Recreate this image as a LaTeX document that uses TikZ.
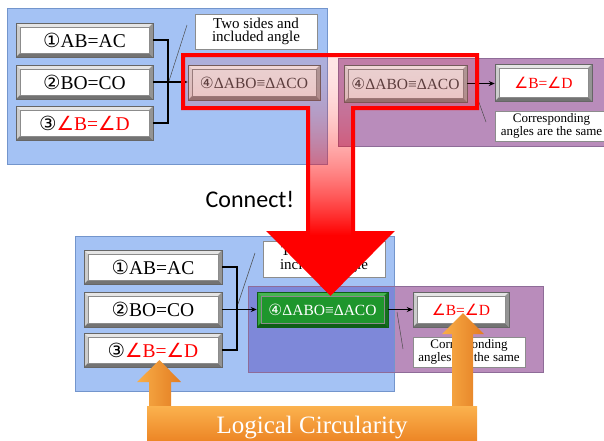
\documentclass[tikz,border=0pt]{standalone}
\usepackage{fontspec}
\setmainfont{Liberation Serif}
\newfontfamily\dv{DejaVu Sans}
\newfontfamily\carl{Carlito}
\usetikzlibrary{arrows.meta,calc}
\definecolor{pblue}{HTML}{A4C2F4}
\definecolor{pblueD}{HTML}{7395CC}
\definecolor{ppurp}{HTML}{B98CBB}
\definecolor{ppurpD}{HTML}{8E6C98}
\definecolor{povl}{HTML}{7E88D9}
\definecolor{gin}{HTML}{1E962C}
\definecolor{gtop}{HTML}{46B552}
\definecolor{gleft}{HTML}{34A640}
\definecolor{gright}{HTML}{14701E}
\definecolor{gbot}{HTML}{0E5E16}
\definecolor{orA}{HTML}{FBB24E}
\definecolor{orB}{HTML}{EC8424}
\definecolor{orL}{HTML}{F9AE48}
\definecolor{orR}{HTML}{E37C21}
\newcommand\fA{\fontsize{19.5}{21}\selectfont}
\newcommand\fB{\fontsize{15.5}{17}\selectfont}
\newcommand\fC{\fontsize{15}{13.5}\selectfont}
\newcommand\fD{\fontsize{13}{10.5}\selectfont}
\newcommand\ang{{\dv ∠}}
\tikzset{
  bevelbase/.style n args={5}{fill=#1, draw=black!60, line width=0.5pt, inner sep=0pt,
    path picture={
      \fill[#2] (path picture bounding box.north west) -- (path picture bounding box.north east)
        -- ([shift={(-4pt,-4pt)}]path picture bounding box.north east) -- ([shift={(4pt,-4pt)}]path picture bounding box.north west) -- cycle;
      \fill[#3] (path picture bounding box.north west) -- (path picture bounding box.south west)
        -- ([shift={(4pt,4pt)}]path picture bounding box.south west) -- ([shift={(4pt,-4pt)}]path picture bounding box.north west) -- cycle;
      \fill[#4] (path picture bounding box.north east) -- (path picture bounding box.south east)
        -- ([shift={(-4pt,4pt)}]path picture bounding box.south east) -- ([shift={(-4pt,-4pt)}]path picture bounding box.north east) -- cycle;
      \fill[#5] (path picture bounding box.south west) -- (path picture bounding box.south east)
        -- ([shift={(-4pt,4pt)}]path picture bounding box.south east) -- ([shift={(4pt,4pt)}]path picture bounding box.south west) -- cycle;
      \draw[black!45, line width=0.4pt] ([shift={(4pt,-4pt)}]path picture bounding box.north west) rectangle ([shift={(-4pt,4pt)}]path picture bounding box.south east);
    }},
  whitebevel/.style={bevelbase={white}{black!10}{black!20}{black!42}{black!55}},
  graybevel/.style={bevelbase={black!9}{black!6}{black!15}{black!35}{black!48}, text=black!72},
  greenbevel/.style={bevelbase={gin}{gtop}{gleft}{gright}{gbot}, draw=gbot, text=white},
  notebox/.style={fill=white, draw=black!45, line width=0.5pt, inner sep=0pt, align=center},
  bluepanel/.style={fill=pblue, draw=pblueD, line width=0.8pt},
  purppanel/.style={fill=ppurp, draw=ppurpD, line width=0.8pt},
  conn/.style={draw=black, line width=1.4pt},
  arr/.style={draw=black, line width=1.4pt, -{Stealth[length=6pt,width=5pt]}},
  thinline/.style={draw=black!70, line width=0.5pt},
}
\begin{document}
\begin{tikzpicture}[x=1pt,y=-1pt]
\useasboundingbox (0,0) rectangle (604,440);
\clip (0,0) rectangle (604,440);
% ---------- top ----------
\path[bluepanel] (7,8) rectangle (327,164);
\path[purppanel] (338,58) rectangle (612,146);
\node[whitebevel, minimum width=137pt, minimum height=34pt, font=\fA] (a1) at (84.5,40) {{\dv ①}AB=AC};
\node[whitebevel, minimum width=137pt, minimum height=34pt, font=\fA] (a2) at (84.5,82) {{\dv ②}BO=CO};
\node[whitebevel, minimum width=137pt, minimum height=34pt, font=\fA] (a3) at (84.5,123) {{\dv ③}\textcolor{red}{\ang B=\ang D}};
\node[notebox, minimum width=122pt, minimum height=35pt, font=\fC] (tA) at (256,31.5) {Two sides and\\included angle};
\node[graybevel, minimum width=132pt, minimum height=35pt, font=\fB] (a4) at (254,82.5) {{\dv ④}ΔABO≡ΔACO};
\coordinate (ja) at (168,82);
\draw[conn] (a1.east) -| (ja);
\draw[conn] (a3.east) -| (ja);
\draw[arr] (a2.east) -- (a2.east -| a4.west);
\coordinate (la1) at (169,81);
\coordinate (la2) at (187,25);
\draw[thinline] (la1) -- (la2);
\node[graybevel, minimum width=123pt, minimum height=37pt, font=\fB] (b4) at (405.5,83.5) {{\dv ④}ΔABO≡ΔACO};
\node[whitebevel, minimum width=97pt, minimum height=37pt, font=\fB, text=red] (b5) at (543.5,82.5) {\ang B=\ang D};
\draw[arr] (b4.east) -- (b4.east -| b5.west);
\node[notebox, minimum width=113pt, minimum height=30pt, font=\fD] (tB) at (551.5,126) {Corresponding\\angles are the same};
\coordinate (lb1) at (477,97);
\coordinate (lb2) at (486,122);
\draw[thinline] (lb1) -- (lb2);
% ---------- bottom ----------
\fill[pblue] (75,236) rectangle (394,391);
\fill[ppurp] (248,286) rectangle (543,372);
\fill[povl] (248,286) rectangle (394,372);
\draw[pblueD, line width=0.8pt] (75,236) rectangle (394,391);
\draw[ppurpD, line width=0.8pt] (248,286) rectangle (543,372);
\node[whitebevel, minimum width=138pt, minimum height=34pt, font=\fA] (c1) at (153,267) {{\dv ①}AB=AC};
\node[whitebevel, minimum width=138pt, minimum height=35pt, font=\fA] (c2) at (153,309.5) {{\dv ②}BO=CO};
\node[whitebevel, minimum width=138pt, minimum height=34pt, font=\fA] (c3) at (153,350) {{\dv ③}\textcolor{red}{\ang B=\ang D}};
\node[notebox, minimum width=122pt, minimum height=36pt, font=\fC] (tC) at (324,259) {Two sides and\\included angle};
\node[greenbevel, minimum width=131pt, minimum height=35pt, font=\fB] (c4) at (322.5,309.5) {{\dv ④}ΔABO≡ΔACO};
\coordinate (jc) at (237,309.5);
\draw[conn] (c1.east) -| (jc);
\draw[conn] (c3.east) -| (jc);
\draw[arr] (c2.east) -- (c4.west);
\coordinate (lc1) at (238,304);
\coordinate (lc2) at (255,253);
\draw[thinline] (lc1) -- (lc2);
\node[whitebevel, minimum width=96pt, minimum height=35pt, font=\fB, text=red] (c5) at (461,309.5) {\ang B=\ang D};
\draw[arr] (c4.east) -- (c5.west);
\node[notebox, minimum width=112pt, minimum height=30pt, font=\fD] (tD) at (469,352) {Corresponding\\angles are the same};
\coordinate (ld1) at (397,312);
\coordinate (ld2) at (403,349);
\draw[thinline] (ld1) -- (ld2);
% ---------- connect ----------
\node[font=\carl\fontsize{24}{26}\selectfont, anchor=base] (con) at (250,207) {Connect!};
\begin{scope}
\clip (183,55) -- (477,55) -- (477,108) -- (353,108) -- (353,233) -- (390,233) -- (330.5,293) -- (271,233) -- (308,233) -- (308,108) -- (183,108) -- cycle;
\foreach \yy in {53,...,296} {
  \pgfmathsetmacro\rt{min(1,max(0,(\yy-55)/180))}
  \pgfmathsetmacro\ro{0.1+0.9*\rt*\rt}
  \fill[red, opacity=\ro] (180,\yy) rectangle (480,\yy+1);
}
\end{scope}
\draw[red, line width=4pt, line join=miter] (183,55) -- (477,55) -- (477,108) -- (353,108) -- (353,233) -- (390,233) -- (330.5,293) -- (271,233) -- (308,233) -- (308,108) -- (183,108) -- cycle;
% ---------- circularity ----------
\shade[left color=orL, right color=orR] (149,408) -- (149,382) -- (137,382) -- (159.5,360) -- (181,382) -- (171,382) -- (171,408) -- cycle;
\shade[left color=orL, right color=orR] (452,408) -- (452,334) -- (442,334) -- (463,313) -- (484,334) -- (473,334) -- (473,408) -- cycle;
\shade[top color=orA, bottom color=orB] (147,406) rectangle (477,442);
\node[font=\fontsize{25}{27}\selectfont, text=white, anchor=base] (lc) at (312,433) {Logical Circularity};
\end{tikzpicture}
\end{document}
